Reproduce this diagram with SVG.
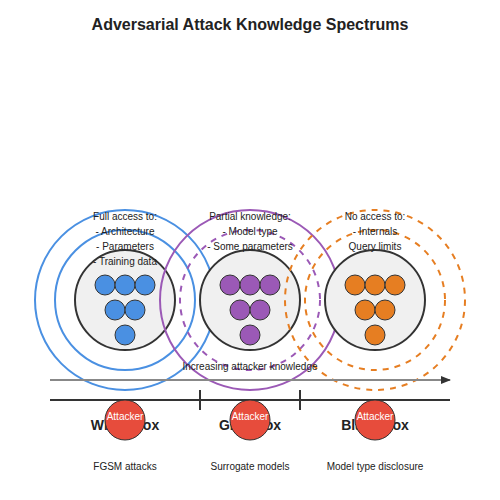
<svg xmlns="http://www.w3.org/2000/svg" width="500" height="500" viewBox="0 0 500 500">
<style>
text{font-family:"Liberation Sans",Arial,sans-serif;text-anchor:middle;fill:#222}
.title{font-size:16px;font-weight:bold}
.t{font-size:10px}
.lbl{font-size:14px;font-weight:bold}
.ring{fill:none;stroke-width:2}
.dash{stroke-dasharray:6,6}
.core{fill:#f0f0f0;stroke:#333;stroke-width:2}
.n{stroke:#333;stroke-width:1}
.att{fill:#e74c3c;stroke:#333;stroke-width:1}
.at{font-size:10px;fill:#fff}
</style>
<defs>
<marker id="arr" markerWidth="10" markerHeight="8" refX="9" refY="4" orient="auto" markerUnits="userSpaceOnUse">
<path d="M0,0 L10,4 L0,8 Z" fill="#333"/>
</marker>
<g id="tri">
<circle class="n" cx="-20" cy="-15" r="10"/>
<circle class="n" cx="0" cy="-15" r="10"/>
<circle class="n" cx="20" cy="-15" r="10"/>
<circle class="n" cx="-10" cy="10" r="10"/>
<circle class="n" cx="10" cy="10" r="10"/>
<circle class="n" cx="0" cy="35" r="10"/>
</g>
</defs>
<text class="title" x="250" y="30">Adversarial Attack Knowledge Spectrums</text>
<g id="white-box">
<circle class="ring" cx="125" cy="300" r="90" stroke="#4a90e2"/>
<circle class="ring" cx="125" cy="300" r="70" stroke="#4a90e2"/>
<circle class="core" cx="125" cy="300" r="50"/>
<use href="#tri" x="125" y="300" fill="#4a90e2"/>
<text class="t" x="125" y="220">Full access to:</text>
<text class="t" x="125" y="235">- Architecture</text>
<text class="t" x="125" y="250">- Parameters</text>
<text class="t" x="125" y="265">- Training data</text>
</g>
<g id="gray-box">
<circle class="ring" cx="250" cy="300" r="90" stroke="#9b59b6"/>
<circle class="ring dash" cx="250" cy="300" r="70" stroke="#9b59b6"/>
<circle class="core" cx="250" cy="300" r="50"/>
<use href="#tri" x="250" y="300" fill="#9b59b6"/>
<text class="t" x="250" y="220">Partial knowledge:</text>
<text class="t" x="250" y="235">- Model type</text>
<text class="t" x="250" y="250">- Some parameters</text>
</g>
<g id="black-box">
<circle class="ring dash" cx="375" cy="300" r="90" stroke="#e67e22"/>
<circle class="ring dash" cx="375" cy="300" r="70" stroke="#e67e22"/>
<circle class="core" cx="375" cy="300" r="50"/>
<use href="#tri" x="375" y="300" fill="#e67e22"/>
<text class="t" x="375" y="220">No access to:</text>
<text class="t" x="375" y="235">- Internals</text>
<text class="t" x="375" y="250">Query limits</text>
</g>
<g id="connectors">
<line x1="50" y1="380" x2="450" y2="380" stroke="#888" stroke-width="2" marker-end="url(#arr)"/>
<line x1="50" y1="400" x2="450" y2="400" stroke="#333" stroke-width="2"/>
<line x1="200" y1="390" x2="200" y2="410" stroke="#333" stroke-width="2"/>
<line x1="300" y1="390" x2="300" y2="410" stroke="#333" stroke-width="2"/>
</g>
<text class="t" x="250" y="370">Increasing attacker knowledge</text>
<g id="white-label">
<text class="lbl" x="125" y="430">White Box</text>
<circle class="att" cx="125" cy="420" r="20"/>
<text class="at" x="125" y="420">Attacker</text>
<text class="t" x="125" y="470">FGSM attacks</text>
</g>
<g id="gray-label">
<text class="lbl" x="250" y="430">Gray Box</text>
<circle class="att" cx="250" cy="420" r="20"/>
<text class="at" x="250" y="420">Attacker</text>
<text class="t" x="250" y="470">Surrogate models</text>
</g>
<g id="black-label">
<text class="lbl" x="375" y="430">Black Box</text>
<circle class="att" cx="375" cy="420" r="20"/>
<text class="at" x="375" y="420">Attacker</text>
<text class="t" x="375" y="470">Model type disclosure</text>
</g>
</svg>
